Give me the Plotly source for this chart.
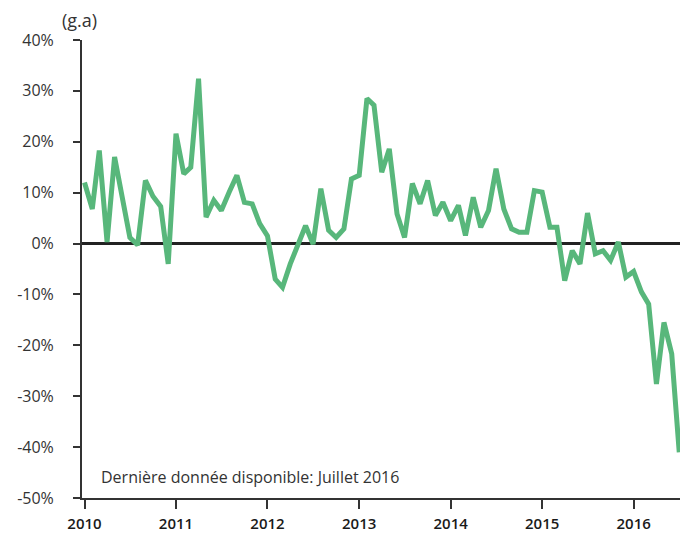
import plotly.graph_objects as go
import pandas as pd

# Monthly year-on-year growth (%), Jan 2010 - Jul 2016
v2010 = [12.0, 6.8, 18.3, 0.3, 17.0, 9.0, 1.2, -0.3, 12.4, 9.3, 7.3, -4.0]
v2011 = [21.6, 13.7, 15.0, 32.4, 5.2, 8.5, 6.5, 10.1, 13.4, 8.1, 7.8, 3.9]
v2012 = [1.5, -7.0, -8.6, -4.0, -0.4, 3.5, -0.1, 10.8, 2.6, 1.2, 2.9, 12.7]
v2013 = [13.4, 28.5, 27.2, 14.0, 18.6, 5.8, 1.2, 11.8, 7.8, 12.4, 5.5, 8.1]
v2014 = [4.5, 7.5, 1.6, 9.1, 3.2, 6.5, 14.7, 6.8, 2.9, 2.2, 2.2, 10.4]
v2015 = [10.1, 3.2, 3.2, -7.3, -1.4, -4.0, 6.0, -2.0, -1.4, -3.3, 0.3, -6.6]
v2016 = [-5.5, -9.5, -11.9, -27.6, -15.5, -21.7, -41.0]

values = v2010 + v2011 + v2012 + v2013 + v2014 + v2015 + v2016
dates = pd.date_range("2010-01-01", periods=len(values), freq="MS")

year_labels = ["2010", "2011", "2012", "2013", "2014", "2015", "2016"]
year_ticks = [f"{y}-01-01" for y in year_labels]
y_ticks = [40, 30, 20, 10, 0, -10, -20, -30, -40, -50]
y_tick_text = [f"{t}%" for t in y_ticks]

FONT = "Open Sans"

fig = go.Figure()
fig.add_trace(go.Scatter(
    x=dates, y=values, mode="lines",
    line=dict(color="#58B77B", width=5),
    hoverinfo="skip", showlegend=False,
))

fig.update_layout(
    width=680, height=535,
    margin=dict(l=82, r=0, t=40, b=37, autoexpand=False),
    paper_bgcolor="white", plot_bgcolor="white",
    font=dict(family=FONT, color="#333333"),
    xaxis=dict(
        type="date", automargin=False,
        range=["2009-12-22", "2016-07-04"],
        tickvals=year_ticks, ticktext=year_labels,
        showgrid=False, zeroline=False,
        showline=True, linecolor="#333333", linewidth=2,
        ticks="outside", ticklen=9, tickwidth=1.5, tickcolor="#333333",
        tickfont=dict(family=FONT, size=15, color="#1a1a1a", weight=600),
        ticklabelstandoff=2,
    ),
    yaxis=dict(
        automargin=False,
        range=[-50, 40],
        tickvals=y_ticks, ticktext=y_tick_text,
        showgrid=False,
        zeroline=True, zerolinecolor="#222222", zerolinewidth=3,
        showline=True, linecolor="#333333", linewidth=2,
        ticks="outside", ticklen=7, tickwidth=1.5, tickcolor="#333333",
        tickfont=dict(family=FONT, size=16, color="#333333"),
        ticklabelstandoff=16,
    ),
    annotations=[
        dict(text="(g.a)", xref="paper", yref="paper", x=-0.005, y=1.0,
             xanchor="center", yanchor="bottom", yshift=6, showarrow=False,
             font=dict(family=FONT, size=18, color="#333333")),
        dict(text="Dernière donnée disponible: Juillet 2016", xref="paper", yref="paper",
             x=0.028, y=0.045, xanchor="left", yanchor="middle", showarrow=False,
             font=dict(family=FONT, size=16, color="#333333")),
    ],
)

fig.write_html(
    "out.html",
    config={"displayModeBar": False},
    post_script="document.body.style.margin='0px'; document.body.style.overflow='hidden';",
)
